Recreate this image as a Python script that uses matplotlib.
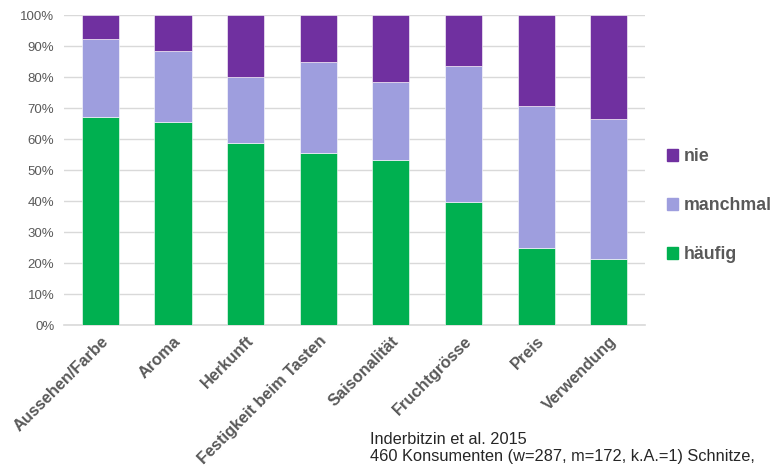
import numpy as np
import matplotlib.pyplot as plt
from matplotlib.patches import Patch
from matplotlib.ticker import PercentFormatter

plt.rcParams['font.family'] = ['Liberation Sans', 'DejaVu Sans']

# Anteile in Prozent
kategorien = ['Aussehen/Farbe', 'Aroma', 'Herkunft', 'Festigkeit beim Tasten',
              'Saisonalität', 'Fruchtgrösse', 'Preis', 'Verwendung']
haeufig = [67.0, 65.5, 58.8, 55.6, 53.3, 39.8, 25.0, 21.4]
manchmal = [25.3, 23.0, 21.2, 29.3, 25.2, 43.8, 45.7, 45.1]
nie = [7.7, 11.5, 20.0, 15.1, 21.5, 16.4, 29.3, 33.5]

farben = {'häufig': '#00b050', 'manchmal': '#9e9ede', 'nie': '#7030a0'}
grau = '#595959'

fig = plt.figure(figsize=(7.77, 4.70), dpi=100)
ax = fig.add_axes([0.0824, 0.3085, 0.748, 0.659])

x = np.arange(len(kategorien))
breite = 0.51
ax.bar(x, haeufig, breite, color=farben['häufig'], edgecolor='white', linewidth=0.4, zorder=3)
ax.bar(x, manchmal, breite, bottom=haeufig, color=farben['manchmal'],
       edgecolor='white', linewidth=0.4, zorder=3)
unten = np.array(haeufig) + np.array(manchmal)
ax.bar(x, nie, breite, bottom=unten, color=farben['nie'], edgecolor='white', linewidth=0.4, zorder=3)

ax.set_xlim(-0.5, len(kategorien) - 0.5)
ax.set_ylim(0, 100)
ax.set_yticks(np.arange(0, 101, 10))
ax.yaxis.set_major_formatter(PercentFormatter(decimals=0))
ax.grid(axis='y', color='#d9d9d9', linewidth=1, zorder=0)
for s in ['top', 'right', 'left']:
    ax.spines[s].set_visible(False)
ax.spines['bottom'].set_color('#d9d9d9')
ax.spines['bottom'].set_linewidth(1.2)
ax.tick_params(axis='both', length=0, colors=grau)
ax.tick_params(axis='y', labelsize=9.5, pad=7)

ax.set_xticks(x)
ax.set_xticklabels(kategorien, rotation=45, ha='right', rotation_mode='anchor',
                   fontsize=11.8, fontweight='bold', color=grau)
ax.tick_params(axis='x', pad=6)

handles = [Patch(color=farben[k]) for k in ['nie', 'manchmal', 'häufig']]
leg = fig.legend(handles, ['nie', 'manchmal', 'häufig'], loc='center left',
                 bbox_to_anchor=(0.859, 0.562), frameon=False, borderpad=0,
                 borderaxespad=0, handlelength=0.6, handleheight=0.6,
                 handletextpad=0.3, labelspacing=1.8,
                 prop={'weight': 'bold', 'size': 12.8})
for t in leg.get_texts():
    t.set_color(grau)

fig.text(0.476, 0.081, 'Inderbitzin et al. 2015\n460 Konsumenten (w=287, m=172, k.A.=1) Schnitze,',
         fontsize=11.8, color='#262626', va='top', linespacing=1.2)

fig.savefig('out.png', dpi=100)
